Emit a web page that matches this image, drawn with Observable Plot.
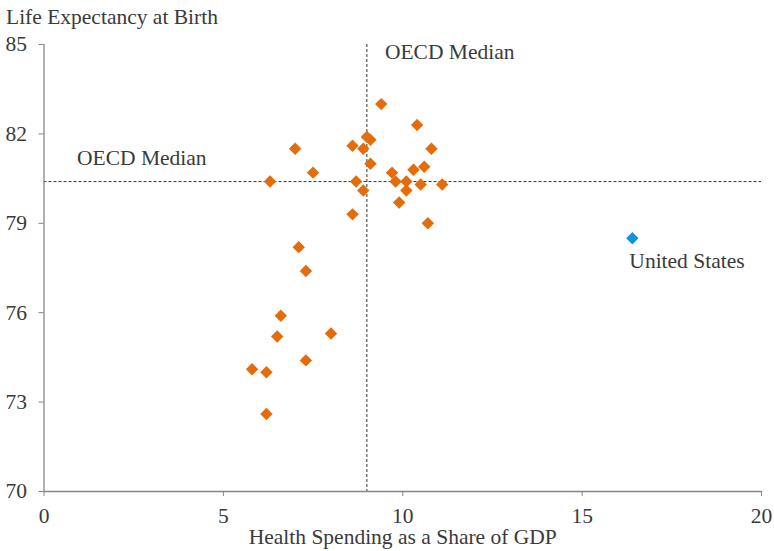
<!DOCTYPE html>
<html><head><meta charset="utf-8">
<script src="https://cdn.jsdelivr.net/npm/d3@7"></script>
<script src="https://cdn.jsdelivr.net/npm/@observablehq/plot@0.6"></script>
<style>body{margin:0;background:#fff} svg{display:block}</style>
</head><body><div id="chart"></div>
<script>
// OECD countries (excluding the United States)
const spending = [9.4, 10.4, 7.0, 8.6, 9.0, 9.1, 8.9, 10.8, 9.1, 7.5, 6.3, 9.7, 10.3, 10.6, 8.7, 8.9, 9.8, 10.1, 10.1, 10.5, 11.1, 9.9, 8.6, 10.7, 7.1, 7.3, 6.6, 6.5, 8.0, 7.3, 5.8, 6.2, 6.2];
const lifeExp  = [83.0, 82.3, 81.5, 81.6, 81.9, 81.8, 81.5, 81.5, 81.0, 80.7, 80.4, 80.7, 80.8, 80.9, 80.4, 80.1, 80.4, 80.4, 80.1, 80.3, 80.3, 79.7, 79.3, 79.0, 78.2, 77.4, 75.9, 75.2, 75.3, 74.4, 74.1, 74.0, 72.6];
// United States
const usName = ["United States"];
const usSpending = [16.4];
const usLifeExp = [78.5];
// OECD medians
const medianSpending = [9.0];
const medianLife = [80.4];
const medianLabel = ["OECD Median"];
// ticks
const xTicks = [0, 5, 10, 15, 20];
const yTicks = [70, 73, 76, 79, 82, 85];
const title = "Life Expectancy at Birth";
const xTitle = "Health Spending as a Share of GDP";

const others = spending.map((s, i) => ({x: s, y: lifeExp[i]}));
const us = usSpending.map((s, i) => ({x: s, y: usLifeExp[i], name: usName[i]}));

const FONT = "'Liberation Serif', 'Times New Roman', serif";
const FS = 21.5;
const TXT = "#3a3a3a";
const AX = "#868686";

const chart = Plot.plot({
  width: 774,
  height: 551,
  marginLeft: 43.5,
  marginRight: 13,
  marginTop: 44,
  marginBottom: 60,
  x: {domain: [0, 20]},
  y: {domain: [70, 85]},
  style: {fontFamily: FONT, fontSize: FS + "px", color: TXT, background: "#fff"},
  marks: [
    Plot.ruleX(medianSpending, {x: d => d, stroke: "#333", strokeWidth: 1, strokeDasharray: "3,2"}),
    Plot.ruleY(medianLife, {y: d => d, stroke: "#333", strokeWidth: 1, strokeDasharray: "3,2"}),
    Plot.ruleX([0], {stroke: AX, strokeWidth: 1.3}),
    Plot.ruleY([70], {stroke: AX, strokeWidth: 1.3}),
    Plot.axisX({ticks: xTicks, tickSize: 5, tickPadding: 11, stroke: AX, fill: TXT, label: null, fontSize: FS}),
    Plot.axisY({ticks: yTicks, tickSize: 5, tickPadding: 12, stroke: AX, fill: TXT, label: null, fontSize: FS}),
    Plot.dot(others, {x: "x", y: "y", symbol: "diamond2", r: 5.6, fill: "#E46C0A", stroke: "none"}),
    Plot.dot(us, {x: "x", y: "y", symbol: "diamond2", r: 5.6, fill: "#0E96DA", stroke: "none"}),
    Plot.text(us, {x: "x", y: "y", text: "name", textAnchor: "start", lineAnchor: "middle", dx: -3, dy: 23, fill: TXT, fontSize: FS}),
    Plot.text(medianLabel, {x: () => medianSpending[0], frameAnchor: "top", text: d => d, textAnchor: "start", lineAnchor: "middle", dx: 18, dy: 8, fill: TXT, fontSize: FS}),
    Plot.text(medianLabel, {y: () => medianLife[0], frameAnchor: "left", text: d => d, textAnchor: "start", lineAnchor: "middle", dx: 33, dy: -23, fill: TXT, fontSize: FS}),
    Plot.text([title], {frameAnchor: "top-left", text: d => d, textAnchor: "start", lineAnchor: "middle", dx: -38, dy: -27, fill: TXT, fontSize: FS}),
    Plot.text([xTitle], {frameAnchor: "bottom", text: d => d, lineAnchor: "middle", dy: 46, fill: TXT, fontSize: FS})
  ]
});
document.getElementById("chart").appendChild(chart);
</script>
</body></html>
